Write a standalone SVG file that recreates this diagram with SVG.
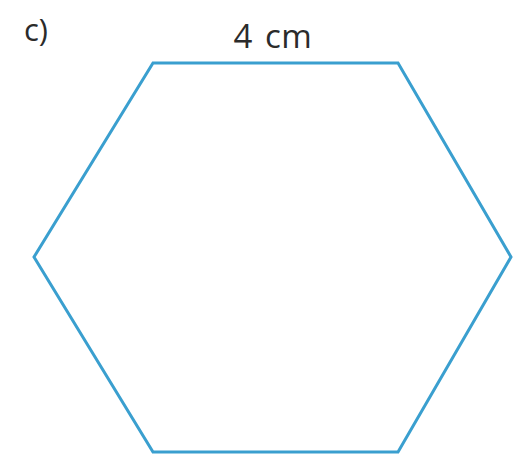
<svg xmlns="http://www.w3.org/2000/svg" width="514" height="455" viewBox="0 0 514 455">
<style>
.lbl{font-family:"Open Sans","Noto Sans",sans-serif;fill:#2b2b2b}
.hex{fill:none;stroke:#3a9fcf;stroke-width:3;stroke-linejoin:miter}
</style>
<rect width="514" height="455" fill="#ffffff"/>
<g id="label-c"><text class="lbl" x="24" y="41" font-size="31">c)</text></g>
<g id="hexagon"><polygon class="hex" points="153,63 398,63 511,257 398,452 153,452 34,257"/></g>
<g id="label-side"><text class="lbl" x="273" y="48" font-size="33" text-anchor="middle" word-spacing="3" letter-spacing="0.5">4 cm</text></g>
</svg>
